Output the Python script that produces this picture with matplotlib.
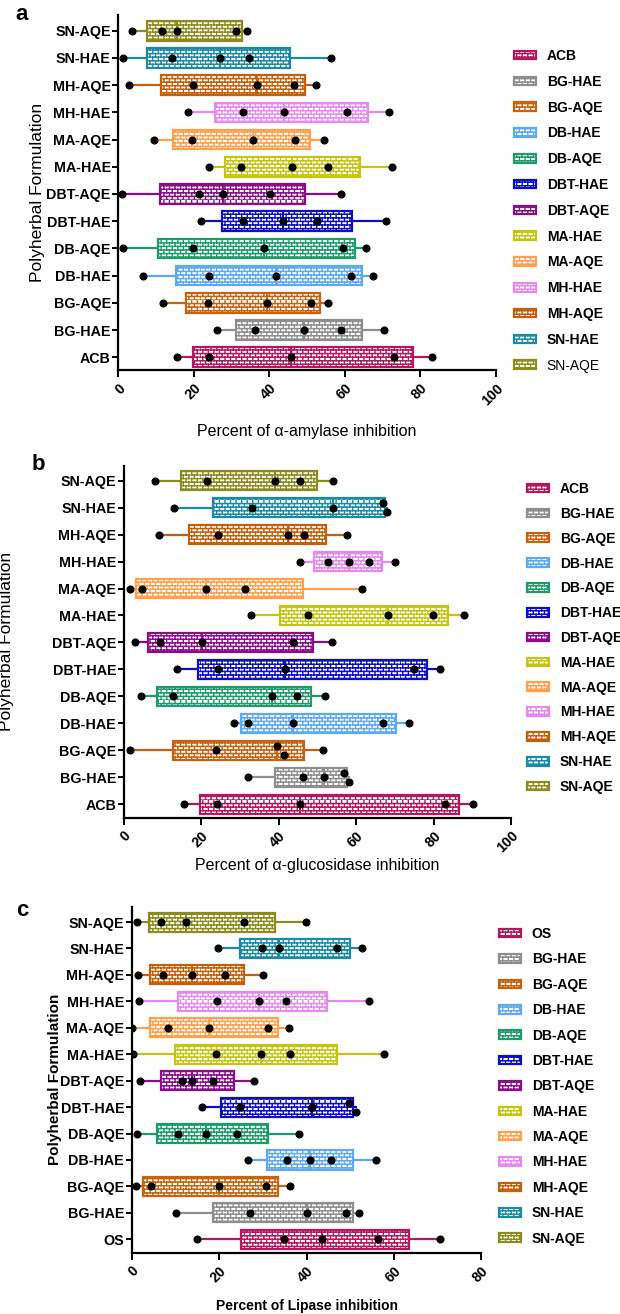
import warnings
warnings.filterwarnings("ignore")
import numpy as np
import matplotlib
matplotlib.use("Agg")
import matplotlib.pyplot as plt
from matplotlib import hatch as mhatch
from matplotlib.path import Path
from matplotlib.patches import Patch

plt.rcParams['font.family'] = ['Liberation Sans', 'DejaVu Sans']
plt.rcParams['hatch.linewidth'] = 1.0

# ---------------- data ----------------
formulations = ["ACB", "BG-HAE", "BG-AQE", "DB-HAE", "DB-AQE", "DBT-HAE", "DBT-AQE",
                "MA-HAE", "MA-AQE", "MH-HAE", "MH-AQE", "SN-HAE", "SN-AQE"]
lipase_formulations = ["OS", "BG-HAE", "BG-AQE", "DB-HAE", "DB-AQE", "DBT-HAE", "DBT-AQE",
                       "MA-HAE", "MA-AQE", "MH-HAE", "MH-AQE", "SN-HAE", "SN-AQE"]
colors = ["#B3175F", "#8E8E8E", "#C8620F", "#5DA9F2", "#1E9B6B", "#0D0DC4", "#8A0E8A",
          "#C4C412", "#FFA04C", "#E58BF0", "#C45F0C", "#1A8BA2", "#8C8C1C"]

amylase = [
    [15.5, 24.0, 45.6, 72.9, 83.0],
    [26.1, 36.1, 49.2, 59.0, 70.3],
    [11.9, 23.8, 39.5, 51.1, 55.6],
    [6.5, 24.0, 41.8, 61.7, 67.5],
    [1.15, 19.7, 38.6, 59.5, 65.7],
    [21.8, 32.9, 43.5, 52.5, 71.0],
    [0.9, 21.4, 27.6, 40.1, 59.0],
    [24.0, 32.4, 46.1, 55.4, 72.5],
    [9.4, 19.4, 35.7, 46.8, 54.5],
    [18.4, 33.0, 44.0, 60.5, 71.8],
    [2.8, 19.9, 36.6, 46.6, 52.3],
    [1.15, 14.3, 26.9, 34.5, 56.2],
    [3.5, 11.65, 15.5, 31.1, 34.2],
]
glucosidase = [
    [15.5, 24.0, 45.6, 82.9, 90.1],
    [32.0, 46.2, 51.7, 56.8, 58.3],
    [1.5, 23.8, 39.5, 41.4, 51.5],
    [28.6, 32.1, 43.7, 67.0, 73.6],
    [4.5, 12.7, 38.3, 44.7, 51.9],
    [13.8, 24.4, 41.7, 75.0, 81.6],
    [2.8, 9.5, 20.1, 43.7, 53.8],
    [32.9, 47.7, 68.2, 79.9, 87.8],
    [1.7, 4.6, 21.2, 31.4, 61.4],
    [45.4, 52.7, 58.3, 63.3, 70.0],
    [9.2, 24.4, 42.3, 46.6, 57.7],
    [13.0, 33.0, 54.0, 66.9, 68.1],
    [8.0, 21.6, 39.1, 45.6, 54.0],
]
lipase = [
    [15.0, 34.8, 43.6, 56.3, 70.6],
    [10.1, 27.0, 40.0, 49.0, 52.1],
    [0.9, 4.4, 20.0, 30.8, 36.2],
    [26.5, 35.6, 40.7, 45.6, 55.9],
    [1.1, 10.6, 17.1, 24.1, 38.3],
    [16.2, 24.7, 41.3, 49.8, 51.3],
    [1.9, 11.6, 13.8, 18.6, 28.1],
    [0.4, 19.4, 29.5, 36.2, 57.7],
    [0.15, 8.2, 17.8, 31.1, 36.0],
    [1.7, 19.5, 29.1, 35.4, 54.2],
    [1.4, 7.1, 13.9, 21.4, 30.1],
    [19.8, 29.8, 33.6, 46.9, 52.8],
    [1.1, 6.7, 12.4, 25.6, 39.9],
]
amylase_ticks = [0, 20, 40, 60, 80, 100]
glucosidase_ticks = [0, 20, 40, 60, 80, 100]
lipase_ticks = [0, 20, 40, 60, 80]


# ---------------- brick hatch ----------------
class BrickHatch(mhatch.HatchPatternBase):
    def __init__(self, hatch, density):
        self.on = 'B' in hatch
        self.rows = 28
        self.cols = 18
        self.num_vertices = (2 * self.rows + 2 * self.rows * self.cols) if self.on else 0

    def set_vertices_and_codes(self, vertices, codes):
        v = []
        for i in range(self.rows):
            y = i / self.rows
            v += [(0.0, y), (1.0, y)]
        for i in range(self.rows):
            y0, y1 = i / self.rows, (i + 1) / self.rows
            off = 0.5 / self.cols if i % 2 else 0.0
            for j in range(self.cols):
                x = j / self.cols + off
                v += [(x, y0), (x, y1)]
        vertices[:] = np.array(v)
        codes[0::2] = Path.MOVETO
        codes[1::2] = Path.LINETO


mhatch._hatch_types.append(BrickHatch)

fig = plt.figure(figsize=(6.2, 13.14), dpi=100)
W, H = 620.0, 1314.0


def px_axes(left, right, top, bottom):
    return fig.add_axes([left / W, 1 - bottom / H, (right - left) / W, (bottom - top) / H])


panels = [
    dict(letter='a', data=amylase, cats=formulations, ticks=amylase_ticks,
         box=(118.3, 496.0, 15.0, 370.0), ylim=(-0.47, 12.58),
         xlabel="Percent of α-amylase inhibition", xl_bold=False, xl_y=-0.174,
         yl_bold=False, yl_x=-0.215, yl_size=12.5, xl_size=11.5,
         letter_xy=(22, 15), leg_xy=(514, 49), spacing=0.85, last_normal=True),
    dict(letter='b', data=glucosidase, cats=formulations, ticks=glucosidase_ticks,
         box=(123.7, 511.0, 466.0, 817.7), ylim=(-0.5, 12.545),
         xlabel="Percent of α-glucosidase inhibition", xl_bold=False, xl_y=-0.137,
         yl_bold=False, yl_x=-0.302, yl_size=12.5, xl_size=11.5,
         letter_xy=(38, 464), leg_xy=(527, 482), spacing=0.78, last_normal=False),
    dict(letter='c', data=lipase, cats=lipase_formulations, ticks=lipase_ticks,
         box=(131.7, 481.3, 906.7, 1252.7), ylim=(-0.506, 12.58),
         xlabel="Percent of Lipase inhibition", xl_bold=True, xl_y=-0.154,
         yl_bold=True, yl_x=-0.219, yl_size=11, xl_size=10,
         letter_xy=(22, 911), leg_xy=(499, 927), spacing=0.82, last_normal=False),
]

TICK_FS = 10.3
LEG_FS = 10.0

for p in panels:
    l, r, t, b = p['box']
    ax = px_axes(l, r, t, b)
    data = p['data']
    pos = np.arange(len(data))
    stats = []
    for vals in data:
        v = np.asarray(vals)
        q1, med, q3 = np.percentile(v, [25, 50, 75], method='weibull')
        stats.append(dict(med=med, q1=q1, q3=q3, whislo=v.min(), whishi=v.max(), fliers=[]))
    res = ax.bxp(stats, positions=pos, widths=0.72, orientation='horizontal',
                 patch_artist=True, showcaps=False, showfliers=False,
                 boxprops=dict(linewidth=1.6, facecolor='white'),
                 whiskerprops=dict(linewidth=1.6), medianprops=dict(linewidth=1.4))
    for i, c in enumerate(colors):
        box = res['boxes'][i]
        box.set_facecolor('white')
        box.set_edgecolor(c)
        box.set_hatch('B')
        box.set_zorder(2)
        for w in res['whiskers'][2 * i:2 * i + 2]:
            w.set_color(c)
            w.set_zorder(1.5)
        res['medians'][i].set_color(c)
        res['medians'][i].set_zorder(2.5)
    # points (dodge overlapping ones vertically)
    xr = p['ticks'][-1] - p['ticks'][0]
    for i, vals in enumerate(data):
        v = np.sort(np.asarray(vals))
        ys = np.full(len(v), float(i))
        for k in range(len(v) - 1):
            if v[k + 1] - v[k] < 0.025 * xr and ys[k] == i and ys[k + 1] == i:
                ys[k] = i + 0.17
                ys[k + 1] = i - 0.17
        ax.plot(v, ys, 'o', color='black', markersize=4.8, zorder=4, linestyle='none')

    ax.set_xlim(p['ticks'][0], p['ticks'][-1])
    ax.set_ylim(*p['ylim'])
    ax.set_xticks(p['ticks'])
    ax.set_xticklabels([str(x) for x in p['ticks']], rotation=45, ha='right', va='top',
                       rotation_mode='anchor', fontsize=TICK_FS, fontweight='bold')
    ax.set_yticks(pos)
    ax.set_yticklabels(p['cats'], fontsize=TICK_FS, fontweight='bold')
    for s in ['top', 'right']:
        ax.spines[s].set_visible(False)
    for s in ['left', 'bottom']:
        ax.spines[s].set_linewidth(1.6)
    ax.tick_params(axis='both', width=1.4, length=4, direction='out', pad=1.5)
    ax.tick_params(axis='x', length=5, pad=3)

    ax.set_xlabel(p['xlabel'], fontsize=p['xl_size'],
                  fontweight='bold' if p['xl_bold'] else 'normal')
    ax.xaxis.label.set_va('center')
    ax.xaxis.set_label_coords(0.5, p['xl_y'])
    ax.set_ylabel("Polyherbal Formulation", fontsize=p['yl_size'],
                  fontweight='bold' if p['yl_bold'] else 'normal')
    ax.yaxis.label.set_va('center')
    ax.yaxis.set_label_coords(p['yl_x'], 0.5)

    fig.text(p['letter_xy'][0] / W, 1 - p['letter_xy'][1] / H, p['letter'],
             fontsize=16, fontweight='bold', ha='center', va='center')

    handles = [Patch(facecolor='white', edgecolor=c, hatch='B', linewidth=1.6) for c in colors]
    leg = ax.legend(handles, p['cats'], loc='upper left',
                    bbox_to_anchor=(p['leg_xy'][0] / W, 1 - p['leg_xy'][1] / H),
                    bbox_transform=fig.transFigure, frameon=False,
                    prop=dict(weight='bold', size=LEG_FS), handlelength=1.6, handleheight=0.57,
                    handletextpad=0.75, labelspacing=p['spacing'], borderpad=0, borderaxespad=0)
    if p['last_normal']:
        leg.get_texts()[-1].set_fontweight('normal')

fig.savefig("out.png", dpi=100)
